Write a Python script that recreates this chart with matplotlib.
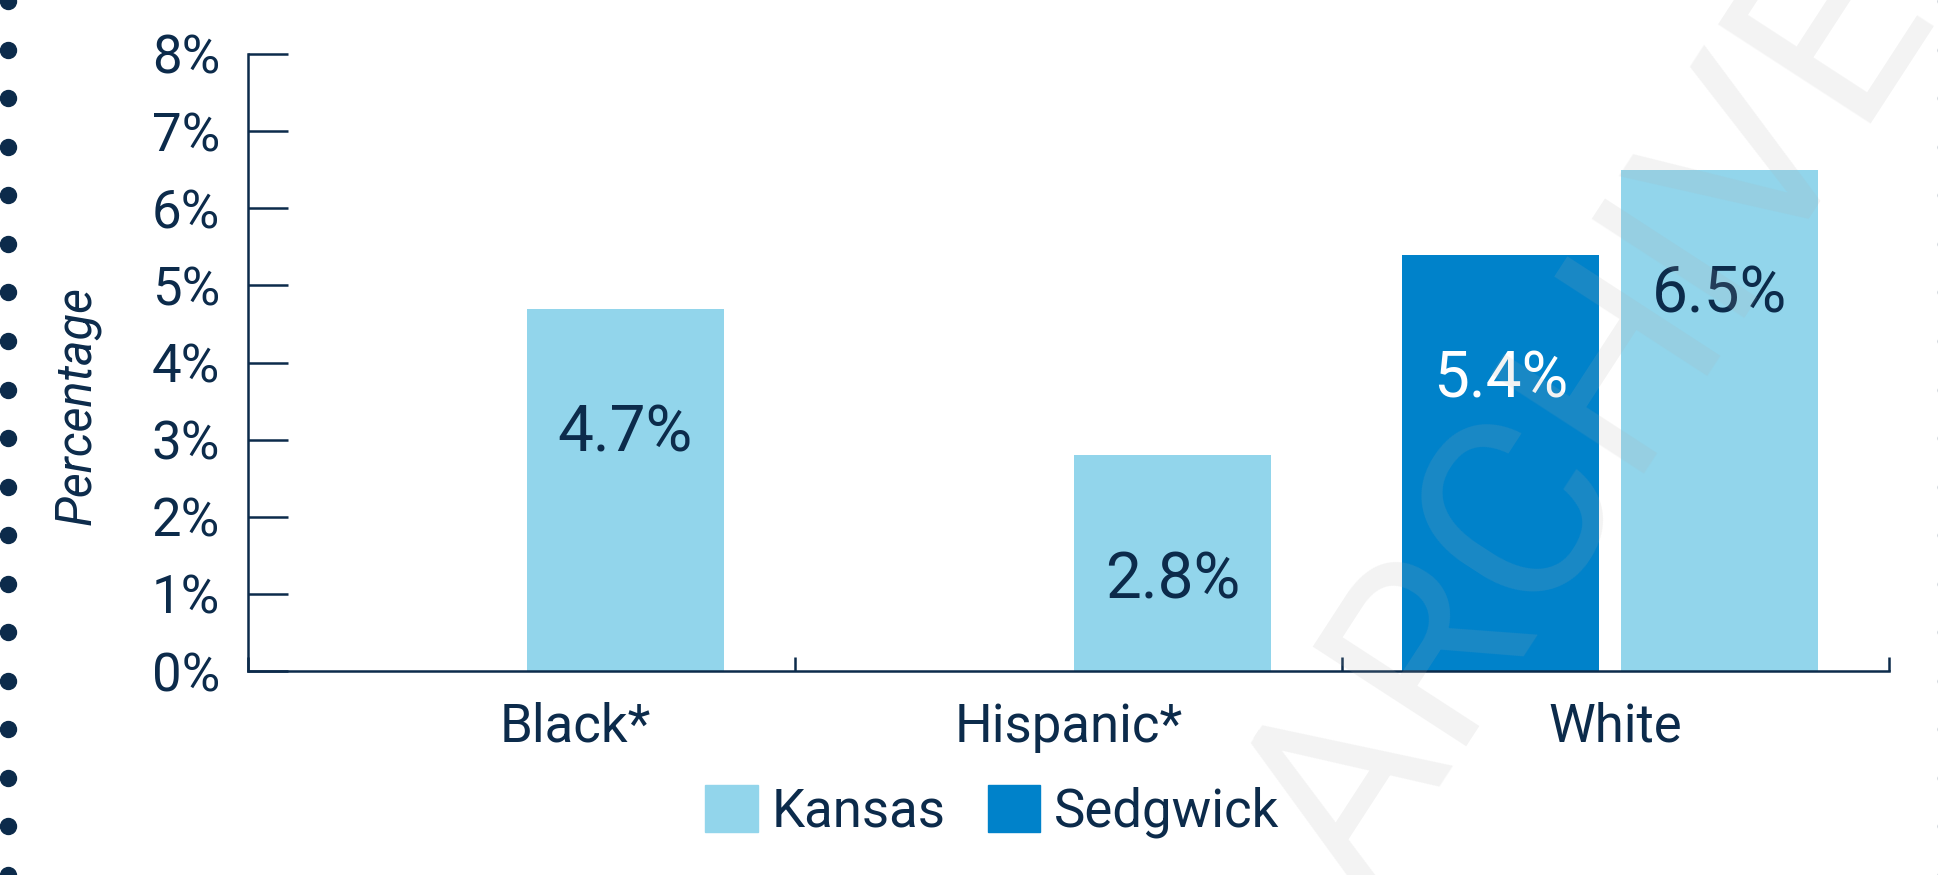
import matplotlib
matplotlib.use("Agg")
import matplotlib.pyplot as plt
import matplotlib.transforms as mtransforms
from matplotlib.lines import Line2D
from matplotlib.patches import Patch
import numpy as np

# data
categories = ["Black*", "Hispanic*", "White"]
kansas = [4.7, 2.8, 6.5]
sedgwick = [None, None, 5.4]
series_names = ["Kansas", "Sedgwick"]
yticks = [0, 1, 2, 3, 4, 5, 6, 7, 8]

NAVY = "#0c2b4b"
KANSAS_C = "#92d5eb"
SEDG_C = "#0082ca"
FONT = "Roboto"

plt.rcParams["font.family"] = [FONT, "DejaVu Sans"]

W, H, DPI = 1938, 875, 100
fig = plt.figure(figsize=(W / DPI, H / DPI), dpi=DPI)
ax = fig.add_axes([248 / W, 1 - 671 / H, (1889 - 248) / W, (671 - 54) / H])

x = np.arange(len(categories))
width = 0.36
k_off, s_off = 0.19, -0.21

ax.bar(x + k_off, kansas, width, color=KANSAS_C, label=series_names[0], zorder=2)
s_x = [xi + s_off for xi, v in zip(x, sedgwick) if v is not None]
s_v = [v for v in sedgwick if v is not None]
ax.bar(s_x, s_v, width, color=SEDG_C, label=series_names[1], zorder=2)

# value labels inside bars
for xi, v in zip(x + k_off, kansas):
    ax.annotate(f"{v:.1f}%", (xi, v), xytext=(0, -90), textcoords="offset points",
                ha="center", va="center", fontsize=46, color=NAVY, zorder=3)
for xi, v in zip(s_x, s_v):
    ax.annotate(f"{v:.1f}%", (xi, v), xytext=(0, -90), textcoords="offset points",
                ha="center", va="center", fontsize=46, color="white", zorder=3)

ax.set_xlim(-0.5, len(categories) - 0.5)
ax.set_ylim(0, 8)
ax.set_yticks(yticks)
ax.set_yticklabels([f"{t}%" for t in yticks])
ax.set_xticks(x)
ax.set_xticklabels(categories)
ax.set_xticks(np.arange(len(categories) + 1) - 0.5, minor=True)

for s in ("top", "right"):
    ax.spines[s].set_visible(False)
for s in ("left", "bottom"):
    ax.spines[s].set_color(NAVY)
    ax.spines[s].set_linewidth(1.8)

ax.tick_params(axis="y", direction="in", length=29, width=1.8, color=NAVY,
               labelsize=38, labelcolor=NAVY, pad=20)
ax.tick_params(axis="x", which="major", length=0, labelsize=38, labelcolor=NAVY, pad=22)
ax.tick_params(axis="x", which="minor", direction="in", length=10, width=1.8, color=NAVY)

# first category label sits a bit right in the original
lbl = ax.get_xticklabels()[0]
lbl.set_transform(lbl.get_transform() + mtransforms.ScaledTranslation(54 / DPI, 0, fig.dpi_scale_trans))

ax.set_ylabel("Percentage", fontsize=35, style="italic", color=NAVY, va="center")
ax.yaxis.set_label_coords(-0.104, 0.431)

handles = [Patch(color=KANSAS_C), Patch(color=SEDG_C)]
fig.legend(handles, series_names, loc="center", bbox_to_anchor=(0.512, 0.073), ncol=2,
           frameon=False, fontsize=38, labelcolor=NAVY, handlelength=1.0, handleheight=1.0,
           handletextpad=0.25, columnspacing=0.8, borderpad=0)

# dotted side borders
dot_y = np.arange(0, H + 1, 48.55) / H
for dx in (8 / W, 1946 / W):
    fig.add_artist(Line2D([dx] * len(dot_y), dot_y, transform=fig.transFigure, ls="none",
                          marker="o", markersize=11.5, color=NAVY, clip_on=False))

# archive watermark
fig.text(1592 / W, 1 - 420 / H, "ARCHIVE", rotation=57, ha="center", va="center",
         fontsize=185, fontweight="normal", color="#aeaeae", alpha=0.15, zorder=10)

fig.savefig("out.png", dpi=DPI)
